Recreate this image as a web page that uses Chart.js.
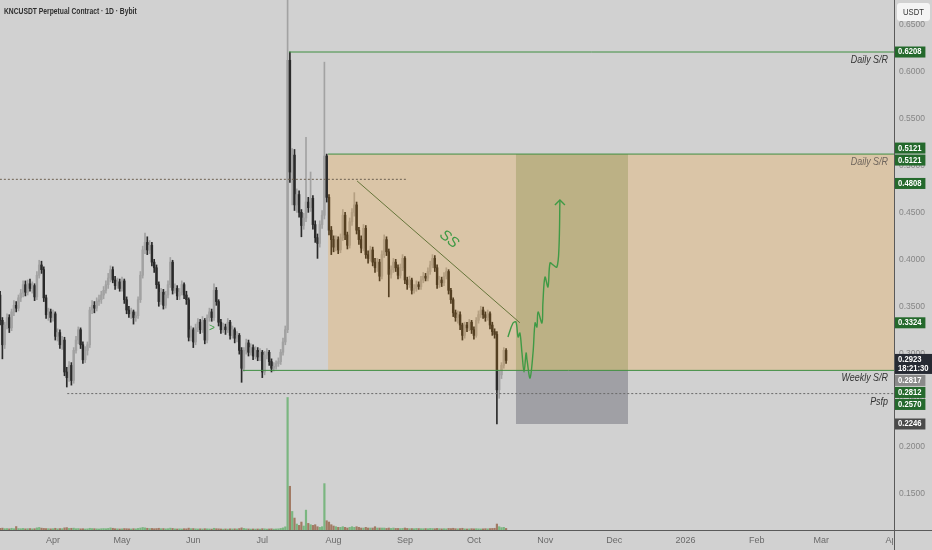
<!DOCTYPE html>
<html>
<head>
<meta charset="utf-8">
<script src="https://cdn.jsdelivr.net/npm/chart.js@4.4.0/dist/chart.umd.min.js"></script>
<style>
html, body { margin: 0; padding: 0; background: #d0d0d0; }
</style>
</head>
<body>
<canvas id="chart" width="932" height="550"></canvas>
<script>
// day 0 = 1 Apr 2025, first candle 9 Mar 2025
const startDay = -23;
const firstOpen = 0.362;

const closes = [
  .335,.309,.330,.338,.327,.344,.351,.348,.359,.364,.373,.365,.374,.369,.372,.360,.383,.394,.389,.359,.341,.344,.338,
  .342,.318,.322,.309,.314,.280,.274,.287,.271,.303,.314,.325,.309,.293,.303,.309,.346,.351,.348,.355,.357,.362,.367,.373,.380,.389,.378,.372,.376,.369,
  .377,.357,.346,.342,.344,.338,.340,.357,.383,.410,.418,.410,.415,.397,.391,.373,.355,.365,.351,.362,.373,.397,.367,.369,.361,.365,.373,.362,.357,.317,
  .325,.312,.327,.333,.325,.335,.314,.338,.344,.338,.367,.355,.333,.325,.328,.325,.333,.319,.325,.316,.319,.303,.284,.303,.311,.301,.306,.297,.303,.296,
  .301,.280,.298,.301,.291,.284,.286,.289,.291,.301,.312,.325,
  .612,.493,.511,.458,.469,.450,.436,.444,.461,.455,.465,.437,.423,.417,.437,.447,.510,
  .466,.431,.421,.413,.421,.410,.423,.447,.426,.415,.440,.450,.458,.431,.421,.412,.433,.405,.401,.410,.397,.391,.397,.382,.405,.421,.408,.384,.389,.397,.391,.383,.391,.401,.378,.373,.378,.367,.369,.373,.371,.378,.382,.380,.387,.394,.401,.391,.373,.378,.375,
  .382,.387,.367,.357,.343,.338,.341,.330,.319,.330,.327,.333,.325,.319,.335,.341,.346,.341,.338,.342,.330,.323,.320,.261,.277,.287,.303,.2923
];
const highs = [
  .366,.338,.333,.342,.341,.347,.356,.355,.362,.368,.377,.377,.378,.379,.376,.374,.387,.399,.398,.392,.362,.348,.347,
  .346,.344,.326,.325,.318,.317,.285,.291,.290,.306,.318,.328,.327,.312,.307,.312,.349,.356,.355,.359,.362,.366,.371,.377,.385,.393,.392,.382,.380,.379,
  .381,.379,.360,.350,.348,.346,.344,.360,.387,.414,.428,.424,.420,.418,.400,.394,.376,.369,.368,.366,.377,.402,.399,.374,.372,.369,.377,.375,.366,.359,
  .329,.327,.331,.337,.336,.339,.337,.341,.348,.347,.374,.370,.357,.336,.332,.331,.337,.335,.329,.327,.323,.321,.306,.306,.315,.314,.310,.309,.307,.306,
  .305,.303,.302,.305,.303,.294,.290,.292,.295,.304,.316,.329,
  .700,.6208,.518,.517,.475,.473,.453,.449,.530,.466,.493,.468,.441,.427,.441,.452,.610,
  .5121,.469,.435,.425,.425,.424,.427,.453,.450,.429,.444,.454,.471,.461,.434,.425,.437,.436,.409,.414,.413,.401,.401,.400,.409,.426,.424,.411,.393,.401,.400,.394,.395,.405,.403,.381,.382,.380,.373,.377,.376,.382,.386,.385,.391,.398,.405,.404,.394,.382,.381,
  .386,.391,.389,.369,.359,.346,.345,.344,.332,.333,.333,.336,.335,.328,.338,.345,.350,.349,.344,.346,.344,.333,.326,.323,.281,.290,.306,.305
];
const lows = [
  .330,.294,.305,.326,.322,.324,.340,.344,.345,.355,.360,.361,.362,.366,.364,.356,.357,.380,.385,.355,.337,.335,.333,
  .334,.314,.313,.305,.304,.276,.264,.270,.266,.268,.300,.310,.305,.289,.290,.298,.306,.342,.343,.345,.351,.353,.358,.364,.369,.376,.375,.368,.369,.366,
  .366,.353,.342,.338,.337,.331,.334,.337,.354,.380,.406,.405,.406,.393,.386,.369,.350,.352,.347,.348,.359,.370,.363,.364,.357,.357,.362,.358,.352,.313,
  .313,.306,.309,.323,.321,.322,.310,.311,.334,.334,.335,.351,.329,.321,.322,.320,.322,.315,.316,.311,.312,.299,.269,.281,.299,.297,.298,.293,.294,.292,
  .292,.274,.277,.294,.287,.280,.281,.283,.286,.288,.298,.309,
  .322,.482,.458,.452,.450,.445,.424,.432,.440,.450,.451,.432,.418,.401,.413,.433,.443,
  .461,.426,.405,.408,.409,.406,.407,.420,.421,.411,.412,.436,.446,.427,.416,.407,.409,.401,.396,.398,.393,.386,.387,.377,.379,.402,.404,.360,.380,.386,.387,.379,.380,.388,.374,.368,.370,.363,.364,.366,.368,.368,.375,.377,.377,.384,.391,.387,.369,.370,.371,
  .372,.379,.363,.353,.339,.334,.332,.325,.314,.316,.323,.324,.321,.315,.317,.332,.338,.337,.334,.335,.326,.319,.316,.2246,.252,.273,.284,.289
];
const volumes = [
  1.2,1.4,1.0,1.1,0.9,1.3,1.0,2.6,1.1,1.0,1.2,0.9,1.0,1.1,0.9,1.0,1.6,1.9,1.4,1.2,1.1,1.0,0.9,
  1.0,1.3,0.9,1.1,1.0,1.6,1.8,1.2,1.3,1.4,1.0,1.1,0.9,1.0,0.8,0.9,1.3,1.1,1.0,0.9,0.8,1.0,1.1,1.0,1.2,1.6,1.3,1.0,0.9,0.8,
  0.9,1.1,1.0,0.9,0.8,1.0,0.9,1.2,1.5,1.9,1.6,1.3,1.1,1.2,1.0,1.1,1.3,1.0,1.1,0.9,1.0,1.4,1.2,0.9,0.8,0.9,0.8,1.0,0.9,1.4,
  1.0,1.1,0.9,0.8,0.9,0.8,1.0,0.9,0.8,0.7,1.3,1.0,0.9,0.8,0.7,0.8,0.7,0.9,0.8,0.9,0.8,1.1,1.6,1.2,0.9,0.8,0.7,0.8,0.7,0.8,
  0.7,1.0,0.9,0.7,0.8,0.9,0.7,0.8,0.9,1.2,1.6,2.4,
  100,33,14,9,4.5,3.5,6,3,15,5,4,3.5,4,2.5,2,2.5,35,
  7,6,4,3,2.5,2,2,2.5,2,1.5,2,2.5,2,2.5,2,1.5,1.5,2,1.5,1.5,1.5,2.5,1.5,1.5,1.5,1.5,1.2,1.5,1.2,1.5,1.2,1.2,1.1,1.2,1.5,1.2,1,1.1,1,1.2,1.1,1,1.0,1.1,1.0,1.2,1.1,1.0,1.2,1.0,0.9,
  1.0,0.9,1.2,1.1,1.3,1.0,0.9,1.1,1.3,0.9,0.8,0.9,1.0,0.9,1.0,0.9,0.8,0.9,1.0,0.9,1.1,1.2,1.3,4.5,2.5,1.8,2.0,1.2
];

// time axis
const monthDays = [0, 30, 61, 91, 122, 153, 183, 214, 244, 275, 306, 334, 365];
const monthLabels = ['Apr', 'May', 'Jun', 'Jul', 'Aug', 'Sep', 'Oct', 'Nov', 'Dec', '2026', 'Feb', 'Mar', 'Apr'];

// drawings
const srNames = ['Daily S/R', 'Daily S/R', 'Weekly S/R', 'Psfp'];
const srPrices = [0.6208, 0.5121, 0.2817, 0.2570];
const srStartDays = [102.6, 119.6, 82.6, 6.2];
const midDays = [-23.1, 153.5];
const midPrice = 0.4852;
const trendDays = [132.2, 203.0];
const trendPrices = [0.4835, 0.3324];
const pathDays = [197.8, 200.0, 201.3, 202.2, 203.0, 203.9, 204.8, 205.7, 206.1, 207.4, 208.7, 209.6, 210.4, 210.9, 212.6, 213.0, 213.9, 215.2, 216.1, 217.4, 219.1, 220.0, 220.4];
const pathPrices = [0.3173, 0.3322, 0.3333, 0.3173, 0.3215, 0.3002, 0.2800, 0.3002, 0.2928, 0.2736, 0.3002, 0.3322, 0.3279, 0.3439, 0.3322, 0.3535, 0.3812, 0.3706, 0.3961, 0.3940, 0.3918, 0.4131, 0.4632];
const rangeStartDay = 119.6;
const rangeTop = 0.5121, rangeBottom = 0.2817;
const positionDays = [201.3, 250.0];
const targetPrice = 0.5121, entryPrice = 0.2812, stopPrice = 0.2246;
const tagPrices = [0.6208, 0.5121, 0.5121, 0.4808, 0.3324, 0.2817, 0.2812, 0.2570, 0.2246];
const tagKinds = ['green', 'green', 'green', 'green', 'green', 'grey', 'green', 'green', 'dark'];
const lastPrice = 0.2923;
const countdown = '18:21:30';

const X_MIN = -23.04, X_MAX = 365.65, Y_MIN = 0.1117, Y_MAX = 0.6762;
const BG = '#d1d1d1';
const FONT = '"Liberation Sans", "Noto Sans", sans-serif';
const GREEN = '#3e8e41';
const UP = '#a2a2a2', DOWN = '#2a2a2a';

const days = closes.map((c, i) => startDay + i);
const opens = closes.map((c, i) => i === 0 ? firstOpen : closes[i - 1]);
const isUp = closes.map((c, i) => c >= opens[i]);
const candleColors = isUp.map(u => u ? UP : DOWN);

function lineSet(xs, ys, color, extra) {
  return Object.assign({
    type: 'line', data: xs.map((x, i) => ({x: x, y: ys[i]})), yAxisID: 'y',
    borderColor: color, borderWidth: 1, pointRadius: 0, tension: 0, order: 2
  }, extra || {});
}

const datasets = [
  {type: 'bar', yAxisID: 'yv', data: days.map((d, i) => ({x: d, y: volumes[i]})),
   backgroundColor: isUp.map(u => u ? 'rgba(92,172,100,0.75)' : 'rgba(150,100,72,0.8)'),
   barThickness: 1.5, order: 10},
  {type: 'bar', yAxisID: 'y', data: days.map((d, i) => ({x: d, y: [lows[i], highs[i]]})),
   backgroundColor: candleColors, barThickness: 1, order: 9},
  {type: 'bar', yAxisID: 'y', data: days.map((d, i) => ({x: d, y: [opens[i], closes[i]]})),
   backgroundColor: candleColors, barThickness: 1.8, minBarLength: 1, order: 8}
];
srPrices.forEach((p, i) => {
  const dotted = srNames[i] === 'Psfp';
  datasets.push(lineSet([srStartDays[i], X_MAX], [p, p], dotted ? '#6a6a6a' : GREEN,
    dotted ? {borderDash: [2, 2]} : {}));
});
datasets.push(lineSet(midDays, [midPrice, midPrice], '#6e6050', {borderDash: [2, 2]}));
datasets.push(lineSet(trendDays, trendPrices, '#66753a'));
datasets.push(lineSet(pathDays, pathPrices, '#3f9a45', {borderWidth: 1.4, tension: 0.35, order: 1}));

function tagLayout(items) {
  items.sort((a, b) => a.top - b.top);
  let groups = items.map(it => ({items: [it], top: it.top, h: it.h}));
  let merged = true;
  while (merged) {
    merged = false;
    for (let i = 0; i < groups.length - 1; i++) {
      const a = groups[i], b = groups[i + 1];
      if (a.top + a.h > b.top + 0.5) {
        const its = a.items.concat(b.items);
        const h = a.h + b.h;
        const pin = its.findIndex(t => t.pinned);
        let top;
        if (pin >= 0) top = its[pin].top - its.slice(0, pin).reduce((s, t) => s + t.h, 0);
        else top = its.reduce((s, t) => s + t.top + t.h / 2, 0) / its.length - h / 2;
        groups.splice(i, 2, {items: its, top: top, h: h});
        merged = true;
        break;
      }
    }
  }
  groups.forEach(g => { let y = g.top; g.items.forEach(t => { t.y = y; y += t.h; }); });
  return items;
}

// text squeezed horizontally, like the narrow UI font of the original
function narrow(c, s, x, y, sx, align) {
  c.save();
  c.translate(x, y);
  c.scale(sx, 1);
  c.textAlign = align;
  c.fillText(s, 0, 0);
  c.restore();
  return c.measureText(s).width * sx;
}

const decor = {
  id: 'decor',
  beforeDraw(chart) {
    const c = chart.ctx;
    c.save(); c.fillStyle = BG; c.fillRect(0, 0, chart.width, chart.height); c.restore();
  },
  afterDatasetDraw(chart, args) {
    if (args.index !== 2) return;
    const c = chart.ctx, x = chart.scales.x, y = chart.scales.y, a = chart.chartArea;
    c.save();
    c.beginPath(); c.rect(a.left, a.top, a.right - a.left, a.bottom - a.top); c.clip();
    const rect = (d0, d1, p0, p1, col) => {
      const x0 = x.getPixelForValue(d0), x1 = x.getPixelForValue(d1);
      const y0 = y.getPixelForValue(p0), y1 = y.getPixelForValue(p1);
      c.fillStyle = col; c.fillRect(x0, y0, x1 - x0, y1 - y0);
    };
    rect(rangeStartDay, X_MAX, rangeTop, rangeBottom, 'rgba(255,152,0,0.2)');
    rect(positionDays[0], positionDays[1], targetPrice, entryPrice, 'rgba(118,134,56,0.30)');
    rect(positionDays[0], positionDays[1], entryPrice, stopPrice, 'rgba(88,88,100,0.40)');
    c.restore();
  },
  afterDraw(chart) {
    const c = chart.ctx, x = chart.scales.x, y = chart.scales.y, a = chart.chartArea;
    c.save();
    // hide the clipped end of the time axis under the price scale
    c.fillStyle = BG; c.fillRect(a.right - 1, a.bottom + 1, chart.width - a.right + 1, chart.height - a.bottom);
    // axis borders
    c.strokeStyle = '#5a5a5a'; c.lineWidth = 1;
    c.beginPath(); c.moveTo(0, a.bottom + 0.5); c.lineTo(chart.width, a.bottom + 0.5); c.stroke();
    c.beginPath(); c.moveTo(a.right + 0.5, 0); c.lineTo(a.right + 0.5, chart.height); c.stroke();

    // level names
    c.textBaseline = 'middle';
    c.font = 'italic 10.5px ' + FONT;
    srNames.forEach((n, i) => {
      const py = y.getPixelForValue(srPrices[i]);
      c.fillStyle = (srPrices[i] <= rangeTop && srPrices[i] > rangeBottom) ? '#6e655c' : '#333333';
      narrow(c, n, a.right - 6, py + 8, 0.85, 'right');
    });

    // "SS" along the trend line
    c.save();
    c.translate(x.getPixelForValue(172.2), y.getPixelForValue(0.4215));
    c.rotate(0.7);
    c.font = 'italic 15px ' + FONT; c.fillStyle = '#3f9a45'; c.textAlign = 'center';
    c.fillText('SS', 0, 0);
    c.restore();

    // small marker
    c.font = '10px ' + FONT; c.fillStyle = '#3f9a45'; c.textAlign = 'center';
    c.fillText('>', x.getPixelForValue(69.1), y.getPixelForValue(0.3265));

    // arrow head of projected path
    const n = pathDays.length - 1;
    const ax = x.getPixelForValue(pathDays[n]), ay = y.getPixelForValue(pathPrices[n]);
    c.strokeStyle = '#3f9a45'; c.lineWidth = 1.4;
    c.beginPath(); c.moveTo(ax - 5, ay + 5); c.lineTo(ax, ay); c.lineTo(ax + 5, ay + 5); c.stroke();

    // price tags on the right scale
    const items = tagPrices.map((p, i) => ({text: p.toFixed(4), kind: tagKinds[i], top: y.getPixelForValue(p) - 6, h: 12}));
    items.push({text: lastPrice.toFixed(4), kind: 'last', top: y.getPixelForValue(lastPrice) - 7, h: 21, pinned: true});
    tagLayout(items);
    const fills = {green: '#24692c', grey: '#8a8a8a', dark: '#4a4a4a', last: '#262a33'};
    const sx = 0.85;
    c.font = 'bold 9px ' + FONT; c.textBaseline = 'middle';
    items.forEach(t => {
      const tw = (t.kind === 'last' ? Math.max(c.measureText(t.text).width, c.measureText(countdown).width) : c.measureText(t.text).width) * sx;
      c.fillStyle = fills[t.kind];
      c.fillRect(a.right + 1, t.y + 0.5, tw + 7, t.h - 1);
      c.fillStyle = '#ffffff';
      if (t.kind === 'last') {
        narrow(c, t.text, a.right + 4, t.y + 6.5, sx, 'left');
        narrow(c, countdown, a.right + 4, t.y + 15, sx, 'left');
      } else {
        narrow(c, t.text, a.right + 4, t.y + t.h / 2, sx, 'left');
      }
    });

    // currency box
    c.fillStyle = '#f4f4f4';
    c.beginPath();
    if (c.roundRect) c.roundRect(897, 3, 33, 18, 3); else c.rect(897, 3, 33, 18);
    c.fill();
    c.fillStyle = '#333333'; c.font = '9px ' + FONT;
    narrow(c, 'USDT', 913.5, 12.5, 0.85, 'center');

    // title
    c.fillStyle = '#2e2e2e'; c.font = 'bold 9.5px ' + FONT;
    narrow(c, 'KNCUSDT Perpetual Contract \u00b7 1D \u00b7 Bybit', 4, 11, 0.71, 'left');
    c.restore();
  }
};

new Chart(document.getElementById('chart'), {
  type: 'bar',
  data: {datasets: datasets},
  options: {
    responsive: false,
    animation: false,
    layout: {padding: 0},
    plugins: {legend: {display: false}, tooltip: {enabled: false}},
    datasets: {bar: {grouped: false}},
    scales: {
      x: {
        type: 'linear', min: X_MIN, max: X_MAX, offset: false,
        grid: {display: false, offset: false, drawTicks: false}, border: {display: false},
        afterBuildTicks: s => { s.ticks = monthDays.map(v => ({value: v})); },
        afterFit: s => { s.height = 20; s.paddingLeft = 0; s.paddingRight = 0; },
        ticks: {
          autoSkip: false, maxRotation: 0, minRotation: 0, padding: 5,
          color: '#6a6a6a', font: {family: FONT, size: 9},
          callback: (v, i) => monthLabels[i]
        }
      },
      y: {
        type: 'linear', position: 'right', min: Y_MIN, max: Y_MAX,
        grid: {display: false, drawTicks: false}, border: {display: false},
        afterFit: s => { s.width = 38; s.paddingTop = 0; s.paddingBottom = 0; },
        ticks: {
          stepSize: 0.05, includeBounds: false, padding: 5,
          color: '#858585', font: {family: FONT, size: 8.5},
          callback: v => Number(v).toFixed(4)
        }
      },
      yv: {type: 'linear', display: false, min: 0, max: 400}
    }
  },
  plugins: [decor]
});
</script>
</body>
</html>
